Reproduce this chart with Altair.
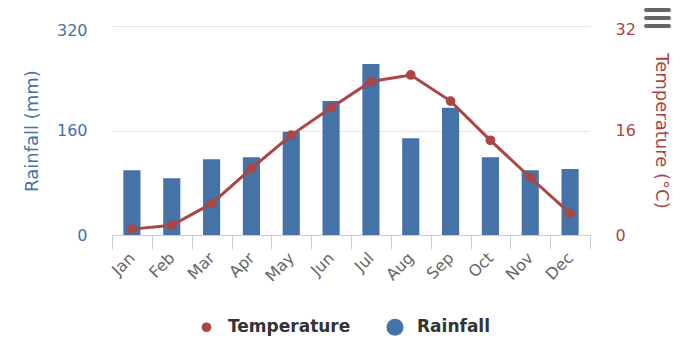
import altair as alt
import pandas as pd

months = ["Jan", "Feb", "Mar", "Apr", "May", "Jun", "Jul", "Aug", "Sep", "Oct", "Nov", "Dec"]
rainfall = [99, 87, 116, 119, 158, 205, 262, 148, 195, 119, 99, 101]
temperature = [0.9, 1.5, 4.8, 10.2, 15.3, 19.5, 23.5, 24.5, 20.5, 14.5, 8.8, 3.3]
series_names = ["Temperature", "Rainfall"]
rain_ticks = [0, 160, 320]
temp_ticks = [0, 16, 32]

BLUE = "#4572A7"
RED = "#AA4643"
FONT = "DejaVu Sans"

rain_df = pd.DataFrame({"month": months, "value": rainfall, "series": "Rainfall"})
temp_df = pd.DataFrame({"month": months, "value": temperature, "series": "Temperature"})

x_enc = alt.X(
    "month:N",
    sort=months,
    scale=alt.Scale(paddingInner=0, paddingOuter=0),
    axis=alt.Axis(
        title=None,
        labelAngle=-45,
        labelAlign="right",
        labelBaseline="middle",
        labelColor="#666666",
        labelFontSize=16,
        domainColor="#C0D0E0",
        domainWidth=1,
        tickColor="#C0D0E0",
        tickSize=14,
        tickBand="extent",
        labelPadding=6,
        grid=False,
    ),
)

def make_legend():
    return alt.Legend(
        title=None,
        orient="none",
        direction="horizontal",
        legendX=86,
        legendY=292,
        symbolType="circle",
        labelFontSize=17,
        labelFontWeight="bold",
        labelColor="#333333",
        labelFont=FONT,
        columnPadding=35,
        labelOffset=13,
        symbolStrokeWidth=0,
        symbolOpacity=1,
    )

color_enc = alt.Color(
    "series:N",
    scale=alt.Scale(domain=series_names, range=[RED, BLUE]),
    legend=make_legend(),
)
size_enc = alt.Size(
    "series:N",
    scale=alt.Scale(domain=series_names, range=[95, 290]),
    legend=make_legend(),
)

y_left = alt.Y(
    "value:Q",
    scale=alt.Scale(domain=[0, 320], nice=False),
    axis=alt.Axis(
        title="Rainfall (mm)",
        values=rain_ticks,
        titleColor=BLUE,
        labelColor=BLUE,
        titleFontSize=18,
        labelFontSize=16,
        titleFontWeight="normal",
        domain=False,
        ticks=False,
        labelPadding=25,
        titlePadding=15,
        labelOffset={"condition": {"test": "datum.value === 320", "value": 4}, "value": 0},
        grid=True,
        gridColor="#E6E6E6",
    ),
)

y_right = alt.Y(
    "value:Q",
    scale=alt.Scale(domain=[0, 32], nice=False),
    axis=alt.Axis(
        title="Temperature (°C)",
        orient="right",
        values=temp_ticks,
        titleColor=RED,
        labelColor=RED,
        titleFontSize=18,
        labelFontSize=16,
        titleFontWeight="normal",
        domain=False,
        ticks=False,
        labelPadding=25,
        titlePadding=16,
        labelOffset={"condition": {"test": "datum.value === 32", "value": 3}, "value": 0},
        grid=False,
    ),
)

bars = alt.Chart(rain_df).mark_bar(width=alt.RelativeBandSize(0.43)).encode(
    x=x_enc, y=y_left, color=color_enc
)

line = alt.Chart(temp_df).mark_line(strokeWidth=3).encode(
    x=x_enc, y=y_right, color=color_enc
)
points = alt.Chart(temp_df).mark_circle(opacity=1).encode(
    x=x_enc, y=y_right, color=color_enc, size=size_enc
)
temp_layer = alt.layer(line, points)

icon_data = alt.Data(values=[{}])
icon_layers = [
    alt.Chart(icon_data).mark_rule(strokeWidth=4, strokeCap="round", color="#666666").encode(
        x=alt.value(534), x2=alt.value(557), y=alt.value(yy)
    )
    for yy in (-16, -8, 0)
]

chart = alt.layer(bars, temp_layer, *icon_layers).resolve_scale(y="independent").properties(
    width=478,
    height=209,
    autosize=alt.AutoSizeParams(type="none"),
    padding={"left": 112, "top": 26, "right": 110, "bottom": 115},
).configure(font=FONT).configure_view(stroke=None)

chart.save("out.html", embed_options={"renderer": "svg", "actions": False})
